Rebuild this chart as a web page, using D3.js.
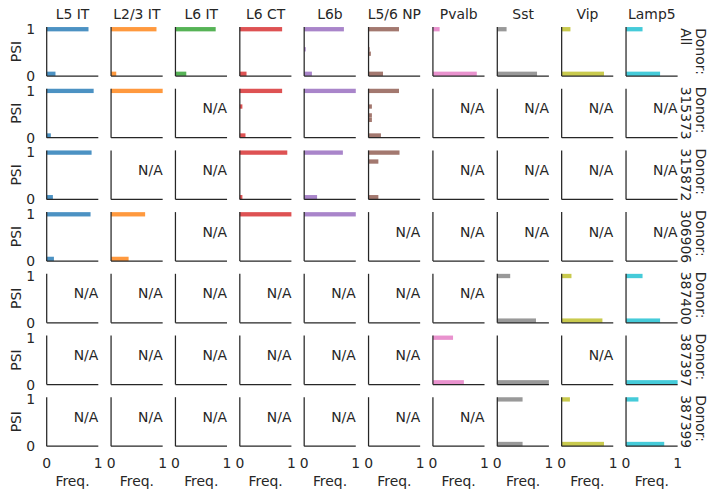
<!DOCTYPE html>
<html><head><meta charset="utf-8">
<script src="https://cdn.jsdelivr.net/npm/d3@7"></script>
<style>body{margin:0;background:#fff}svg{display:block}</style>
</head><body>
<svg id="chart" width="717" height="498"></svg>
<script>
const cellTypes = ["L5 IT","L2/3 IT","L6 IT","L6 CT","L6b","L5/6 NP","Pvalb","Sst","Vip","Lamp5"];
const donors = ["All","315373","315872","306906","387400","387397","387399"];
const palette = ["#1f77b4","#ff7f0e","#2ca02c","#d62728","#9467bd","#8c564b","#e377c2","#7f7f7f","#bcbd22","#17becf"];
const xTicks = [0,1];
const yTicks = [0,1];
// each cell: list of [PSI bin centre, frequency], or null for N/A
const donorAll = [
  [[0.955,0.81],[0.045,0.17]],
  [[0.955,0.88],[0.045,0.10]],
  [[0.955,0.78],[0.045,0.21]],
  [[0.955,0.82],[0.045,0.13]],
  [[0.955,0.77],[0.545,0.03],[0.045,0.15]],
  [[0.955,0.59],[0.545,0.02],[0.455,0.045],[0.045,0.28]],
  [[0.955,0.13],[0.045,0.85]],
  [[0.955,0.18],[0.045,0.77]],
  [[0.955,0.17],[0.045,0.82]],
  [[0.955,0.32],[0.045,0.66]]
];
const donor315373 = [
  [[0.955,0.91],[0.045,0.08]],
  [[0.955,1.0]],
  null,
  [[0.955,0.82],[0.636,0.05],[0.045,0.11]],
  [[0.955,1.0]],
  [[0.955,0.59],[0.636,0.065],[0.455,0.065],[0.364,0.065],[0.045,0.24]],
  null, null, null, null
];
const donor315872 = [
  [[0.955,0.87],[0.045,0.12]],
  null, null,
  [[0.955,0.92],[0.045,0.05]],
  [[0.955,0.75],[0.045,0.25]],
  [[0.955,0.60],[0.773,0.19],[0.045,0.19]],
  null, null, null, null
];
const donor306906 = [
  [[0.955,0.85],[0.045,0.14]],
  [[0.955,0.66],[0.045,0.34]],
  null,
  [[0.955,1.0]],
  [[0.955,1.0]],
  null, null, null, null, null
];
const donor387400 = [
  null, null, null, null, null, null, null,
  [[0.955,0.25],[0.045,0.75]],
  [[0.955,0.19],[0.045,0.79]],
  [[0.955,0.32],[0.045,0.66]]
];
const donor387397 = [
  null, null, null, null, null, null,
  [[0.955,0.39],[0.045,0.60]],
  [[0.045,1.0]],
  null,
  [[0.045,1.0]]
];
const donor387399 = [
  null, null, null, null, null, null, null,
  [[0.955,0.49],[0.045,0.49]],
  [[0.955,0.16],[0.045,0.82]],
  [[0.955,0.24],[0.045,0.74]]
];
const donorRows = [donorAll, donor315373, donor315872, donor306906, donor387400, donor387397, donor387399];

const FONT = "'DejaVu Sans', sans-serif";
const FS = 13.9;
const TXT = "#262626";
const axLeft0 = 46.7, colStep = 64.37, axW = 51.6;
const axTop0 = 27, rowStep = 61.7, axH = 49;
const binH = 0.088;

const svg = d3.select("#chart");
const x = d3.scaleLinear().domain([0,1]).range([0,axW]);
const y = d3.scaleLinear().domain([0,1]).range([axH,0]);

donorRows.forEach((row, ri) => {
  cellTypes.forEach((ct, ci) => {
    const g = svg.append("g").attr("transform", `translate(${axLeft0 + ci*colStep},${axTop0 + ri*rowStep})`);
    const cell = row[ci];
    if (cell) {
      g.selectAll("rect").data(cell).join("rect")
        .attr("x", x(0))
        .attr("y", d => y(d[0] + binH/2))
        .attr("width", d => x(d[1]) - x(0))
        .attr("height", d => y(d[0] - binH/2) - y(d[0] + binH/2))
        .attr("fill", palette[ci]).attr("fill-opacity", 0.8);
    } else {
      g.append("text").attr("x", x(1)).attr("y", y(0.5))
        .attr("text-anchor","end").attr("font-family",FONT).attr("font-size",FS)
        .attr("fill",TXT).text("N/A");
    }
    // spines
    g.append("line").attr("x1",0).attr("x2",0).attr("y1",0).attr("y2",axH)
      .attr("stroke","#262626").attr("stroke-width",1.25);
    g.append("line").attr("x1",0).attr("x2",axW).attr("y1",axH).attr("y2",axH)
      .attr("stroke","#262626").attr("stroke-width",1.25);
    // y ticks for first column
    if (ci === 0) {
      yTicks.forEach(t => {
        g.append("text").attr("x", -11.5).attr("y", y(t) + (t === 1 ? 2 : 0)).attr("dy","0.36em")
          .attr("text-anchor","end").attr("font-family",FONT).attr("font-size",FS)
          .attr("fill",TXT).text(t);
      });
      g.append("text").attr("transform",`translate(-31,${axH/2}) rotate(-90)`)
        .attr("text-anchor","middle").attr("dominant-baseline","central")
        .attr("font-family",FONT).attr("font-size",FS).attr("fill",TXT).text("PSI");
    }
    if (ri === 0) {
      g.append("text").attr("x", axW/2).attr("y", -8)
        .attr("text-anchor","middle").attr("font-family",FONT).attr("font-size",FS)
        .attr("fill",TXT).text(ct);
    }
    if (ri === donors.length - 1) {
      xTicks.forEach(t => {
        g.append("text").attr("x", x(t)).attr("y", axH + 22)
          .attr("text-anchor","middle").attr("font-family",FONT).attr("font-size",FS)
          .attr("fill",TXT).text(t);
      });
      g.append("text").attr("x", axW/2).attr("y", axH + 40)
        .attr("text-anchor","middle").attr("font-family",FONT).attr("font-size",FS)
        .attr("fill",TXT).text("Freq.");
    }
  });
  // row label on right
  const cy = axTop0 + ri*rowStep + axH/2;
  const lines = ["Donor:", donors[ri]];
  const tmp = svg.append("text").attr("font-family",FONT).attr("font-size",FS);
  const maxLen = d3.max(lines, l => { tmp.text(l); return tmp.node().getComputedTextLength(); });
  tmp.remove();
  const xs = [701, 686];
  lines.forEach((l, li) => {
    svg.append("text").attr("transform",`translate(${xs[li]},${cy - maxLen/2}) rotate(90)`)
      .attr("text-anchor","start").attr("dominant-baseline","central")
      .attr("font-family",FONT).attr("font-size",FS).attr("fill",TXT).text(l);
  });
});
</script>
</body></html>
